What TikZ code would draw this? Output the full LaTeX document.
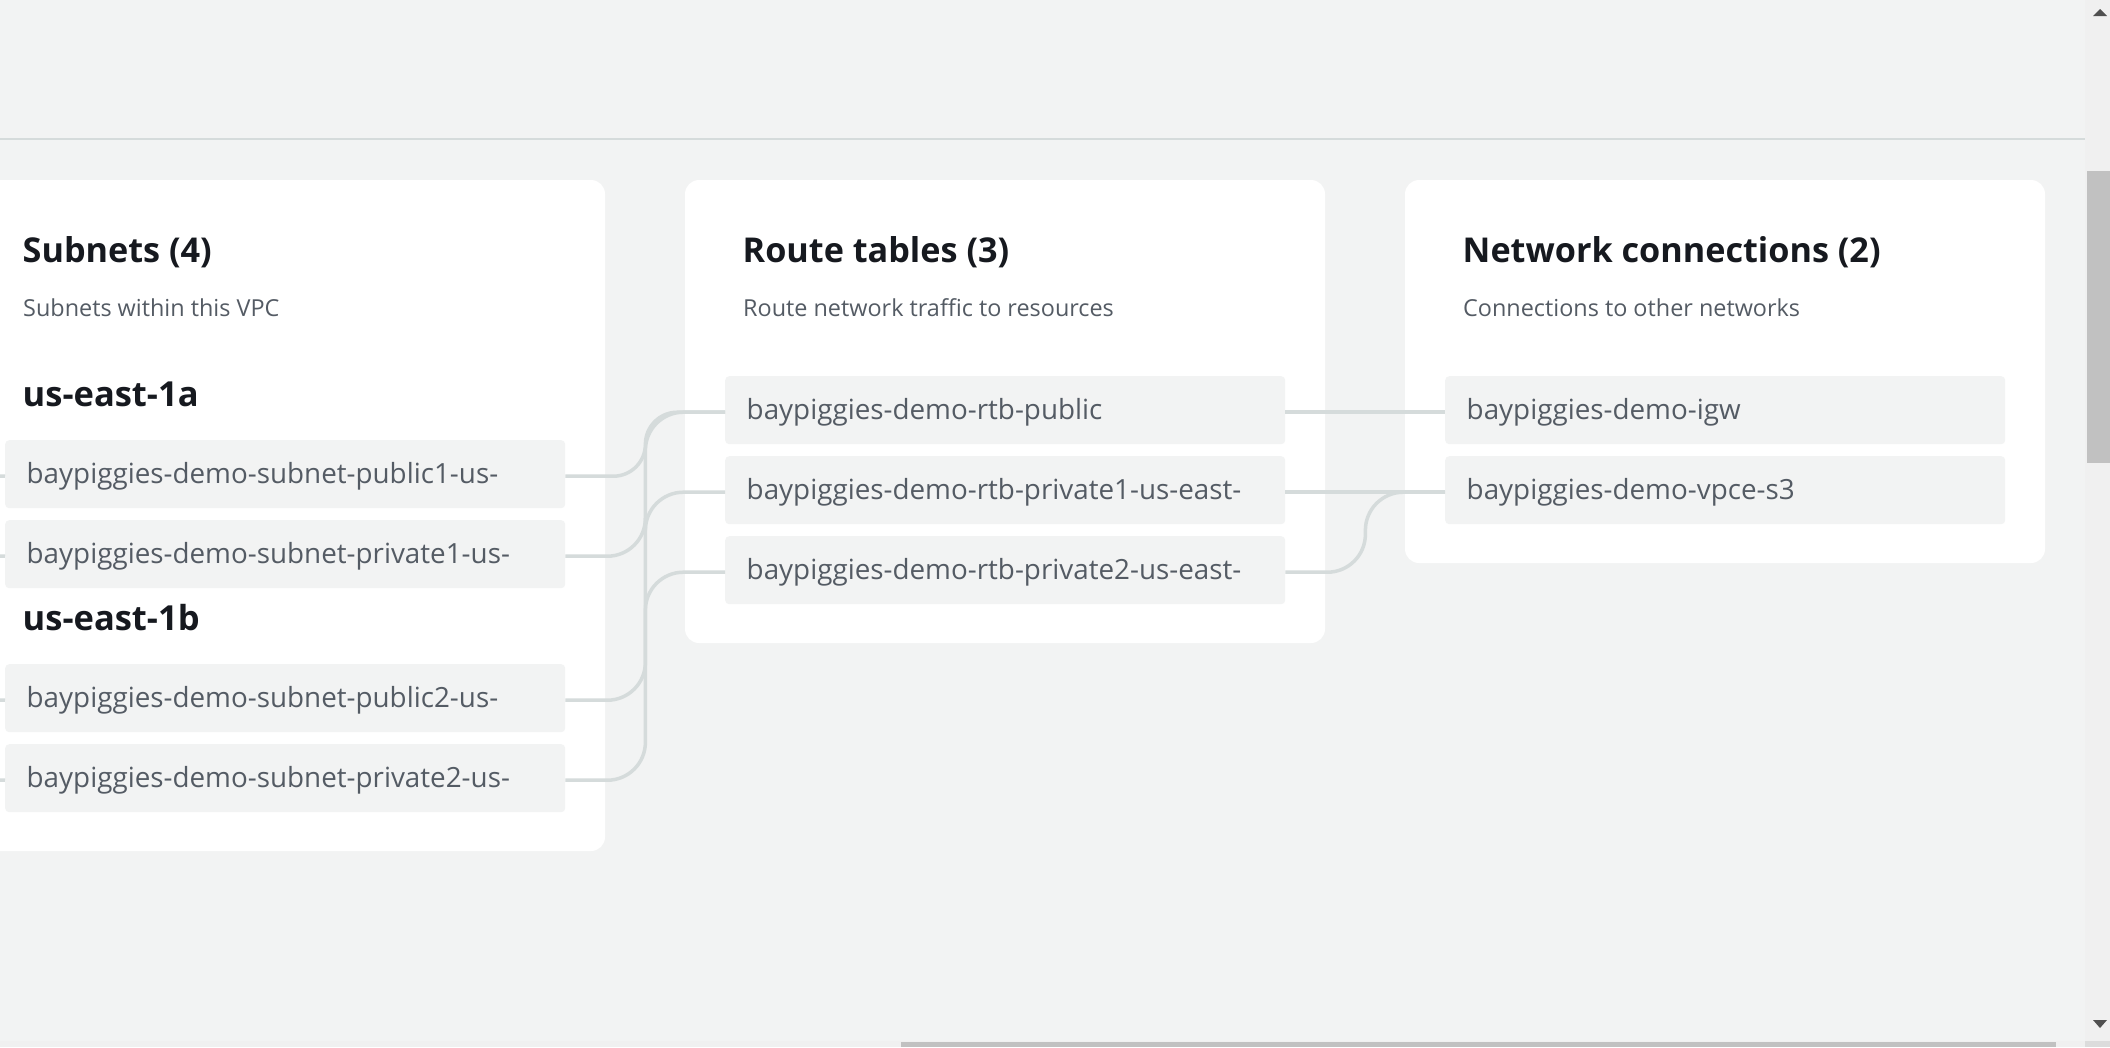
\documentclass[tikz,border=0pt]{standalone}
\usepackage{fontspec}
\setmainfont{Open Sans}
\usetikzlibrary{calc}
\definecolor{bg}{HTML}{F2F3F3}
\definecolor{linec}{HTML}{D5DBDB}
\definecolor{itemtxt}{HTML}{545B64}
\definecolor{titletxt}{HTML}{16191F}
\definecolor{sbtrack}{HTML}{F0F0F0}
\definecolor{sbthumb}{HTML}{C1C1C1}
\definecolor{sbarrow}{HTML}{505050}
\definecolor{sbcorner}{HTML}{DCDCDC}
\begin{document}
\begin{tikzpicture}[x=1pt,y=-1pt,
  panel/.style={fill=white, rounded corners=14pt},
  item/.style={rectangle, fill=bg, rounded corners=4pt, minimum width=560pt,
    minimum height=68pt, inner xsep=21.5pt, inner ysep=0pt, text width=517pt,
    align=left, text height=22pt, text depth=4pt,
    font=\fontsize{27.8}{32}\selectfont, text=itemtxt, anchor=north west},
  ptitle/.style={anchor=base west, inner sep=0pt,
    font=\fontsize{34.2}{40}\selectfont\bfseries, text=titletxt},
  psub/.style={anchor=base west, inner sep=0pt,
    font=\fontsize{23.4}{28}\selectfont, text=itemtxt},
  zone/.style={anchor=base west, inner sep=0pt,
    font=\fontsize{34.5}{40}\selectfont\bfseries, text=titletxt},
  conn/.style={draw=linec, line width=3.5pt, rounded corners=38pt},
]
\useasboundingbox (0,0) rectangle (2110,1047);
\clip (0,0) rectangle (2110,1047);
\fill[bg] (0,0) rectangle (2110,1047);

% header separator
\draw[linec, line width=2pt] (0,139) -- (2085,139);

% panels
\fill[panel] (-35,180) rectangle (605,851);
\fill[panel] (685,180) rectangle (1325,643);
\fill[panel] (1405,180) rectangle (2045,563);

% panel headings
\node[ptitle] (t1) at (22.5,262) {Subnets (4)};
\node[psub] (d1) at (23,316) {Subnets within this VPC};
\node[ptitle] (t2) at (742.5,262) {Route tables (3)};
\node[psub] (d2) at (743,316) {Route network traffic to resources};
\node[ptitle] (t3) at (1462.5,262) {Network connections (2)};
\node[psub] (d3) at (1463,316) {Connections to other networks};

% availability zones
\node[zone] (za) at (22.5,406) {us-east-1a};
\node[zone] (zb) at (22.5,630) {us-east-1b};

% subnets
\node[item] (s1) at (5,440) {baypiggies-demo-subnet-public1-us-};
\node[item] (s2) at (5,520) {baypiggies-demo-subnet-private1-us-};
\node[item] (s3) at (5,664) {baypiggies-demo-subnet-public2-us-};
\node[item] (s4) at (5,744) {baypiggies-demo-subnet-private2-us-};

% route tables
\node[item] (r1) at (725,376) {baypiggies-demo-rtb-public};
\node[item] (r2) at (725,456) {baypiggies-demo-rtb-private1-us-east-};
\node[item] (r3) at (725,536) {baypiggies-demo-rtb-private2-us-east-};

% network connections
\node[item] (n1) at (1445,376) {baypiggies-demo-igw};
\node[item] (n2) at (1445,456) {baypiggies-demo-vpce-s3};

% stubs from the VPC (off to the left)
\coordinate (v1) at (-10,476);
\coordinate (v2) at (-10,556);
\coordinate (v3) at (-10,700);
\coordinate (v4) at (-10,780);
\draw[conn] (v1) -- ([yshift=-2pt]s1.west);
\draw[conn] (v2) -- ([yshift=-2pt]s2.west);
\draw[conn] (v3) -- ([yshift=-2pt]s3.west);
\draw[conn] (v4) -- ([yshift=-2pt]s4.west);

% subnet -> route table
\draw[conn, rounded corners=32pt] ([yshift=-2pt]s1.east) -- ++(80,0) |- ([yshift=-2pt]r1.west);
\draw[conn] ([yshift=-2pt]s2.east) -- ++(80,0) |- ([yshift=-2pt]r2.west);
\draw[conn] ([yshift=-2pt]s3.east) -- ++(80,0) |- ([yshift=-2pt]r1.west);
\draw[conn] ([yshift=-2pt]s4.east) -- ++(80,0) |- ([yshift=-2pt]r3.west);

% route table -> network connection
\draw[conn] ([yshift=-2pt]r1.east) -- ([yshift=-2pt]n1.west);
\draw[conn] ([yshift=-2pt]r2.east) -- ([yshift=-2pt]n2.west);
\draw[conn] ([yshift=-2pt]r3.east) -- ++(80,0) |- ([yshift=-2pt]n2.west);

% scrollbars
\fill[sbtrack] (2085,0) rectangle (2110,1047);
\fill[sbthumb] (2087,171) rectangle (2110,463);
\fill[sbarrow] (2093,16) -- (2107,16) -- (2100,9) -- cycle;
\fill[sbarrow] (2093,1020) -- (2107,1020) -- (2100,1028) -- cycle;
\fill[sbtrack] (0,1041) rectangle (2085,1047);
\fill[sbthumb] (901,1042) rectangle (2056,1047);
\fill[sbcorner] (2085,1041) rectangle (2110,1047);
\end{tikzpicture}
\end{document}
